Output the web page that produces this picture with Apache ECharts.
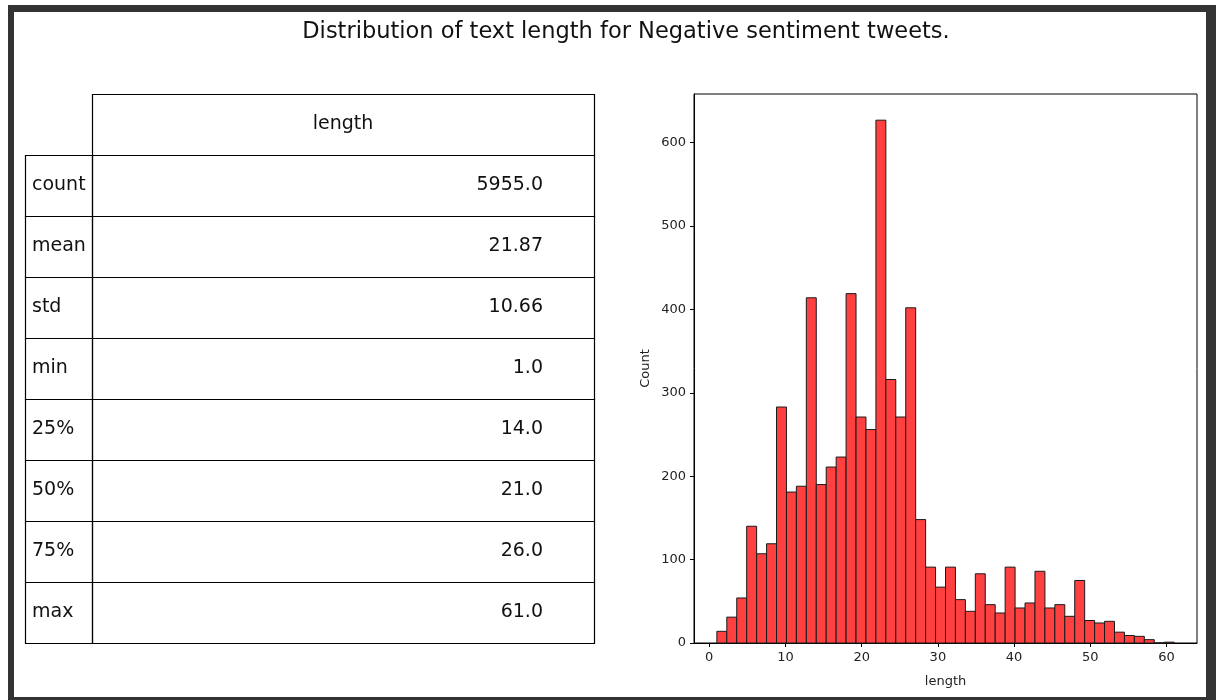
<!DOCTYPE html>
<html>
<head>
<meta charset="utf-8">
<script src="https://cdn.jsdelivr.net/npm/echarts@6/dist/echarts.min.js"></script>
<style>
  html, body { margin: 0; padding: 0; background: #ffffff; }
  #frame { position: absolute; left: 8px; top: 5px; width: 1208px; height: 695px; background: #333333; }
  #chart { position: absolute; left: 6px; top: 7px; width: 1192px; height: 685px; background: #ffffff;
           box-shadow: inset 1px 1px 0 #b8b8b8; }
</style>
</head>
<body>
<div id="frame"><div id="chart"></div></div>
<script>
// Summary statistics of tweet length (words) for the negative class
const titleText = 'Distribution of text length for Negative sentiment tweets.';
const columnHeader = 'length';
const statLabels = ['count', 'mean', 'std', 'min', '25%', '50%', '75%', 'max'];
const statValues = ['5955.0', '21.87', '10.66', '1.0', '14.0', '21.0', '26.0', '61.0'];

// Histogram: 46 equal-width bins spanning the observed range
const binLow = 1;
const binHigh = 61;
const binCounts = [
  14, 31, 54, 140, 107, 119, 283, 181, 188, 414,
  190, 211, 223, 419, 271, 256, 627, 316, 271, 402,
  148, 91, 67, 91, 52, 38, 83, 46, 36, 91,
  42, 48, 86, 42, 46, 32, 75, 27, 24, 26,
  13, 9, 8, 4, 0, 1
];
const xTicks = [0, 10, 20, 30, 40, 50, 60];
const yTicks = [0, 100, 200, 300, 400, 500, 600];

const binWidth = (binHigh - binLow) / binCounts.length;
const histData = binCounts.map((c, i) => [binLow + i * binWidth, binLow + (i + 1) * binWidth, c]);

// Table drawn as graphic cells
const FONT = 'DejaVu Sans';
const labelX0 = 11, labelX1 = 78, valX1 = 580;
const headTop = 82, rowTop = 143, rowH = 61;
const cellLine = { stroke: '#000', lineWidth: 1.2, fill: 'rgba(0,0,0,0)' };
const tableEls = [];
tableEls.push({ type: 'rect', shape: { x: labelX1 + 0.5, y: headTop + 0.5, width: valX1 - labelX1, height: rowTop - headTop }, style: cellLine });
tableEls.push({ type: 'text', x: (labelX1 + valX1) / 2, y: (headTop + rowTop) / 2,
  style: { text: columnHeader, font: '19px ' + FONT, fill: '#111', align: 'center', verticalAlign: 'middle' } });
statLabels.forEach((lab, i) => {
  const y = rowTop + i * rowH;
  tableEls.push({ type: 'rect', shape: { x: labelX0 + 0.5, y: y + 0.5, width: labelX1 - labelX0, height: rowH }, style: cellLine });
  tableEls.push({ type: 'rect', shape: { x: labelX1 + 0.5, y: y + 0.5, width: valX1 - labelX1, height: rowH }, style: cellLine });
  tableEls.push({ type: 'text', x: labelX0 + 7, y: y + rowH / 2,
    style: { text: lab, font: '19px ' + FONT, fill: '#111', align: 'left', verticalAlign: 'middle' } });
  tableEls.push({ type: 'text', x: 529, y: y + rowH / 2,
    style: { text: statValues[i], font: '19px ' + FONT, fill: '#111', align: 'right', verticalAlign: 'middle' } });
});
tableEls.push({ type: 'text', x: 612, y: 20,
  style: { text: titleText, font: '22.5px ' + FONT, fill: '#111', align: 'center', verticalAlign: 'middle' } });

const chart = echarts.init(document.getElementById('chart'), null, { renderer: 'canvas' });
chart.setOption({
  animation: false,
  backgroundColor: '#ffffff',
  textStyle: { fontFamily: FONT },
  graphic: { elements: tableEls },
  grid: { left: 680, top: 82, width: 503, height: 549, show: true, borderColor: '#000', borderWidth: 1, backgroundColor: 'transparent' },
  xAxis: {
    type: 'value', min: -2, max: 64,
    name: 'length', nameLocation: 'middle', nameGap: 32,
    nameTextStyle: { fontSize: 13, color: '#222', fontFamily: FONT },
    axisLine: { show: true, onZero: false, lineStyle: { color: '#000' } },
    axisTick: { show: true, length: 4, lineStyle: { color: '#000' }, customValues: xTicks },
    axisLabel: { fontSize: 13, color: '#222', margin: 8, customValues: xTicks },
    splitLine: { show: false }
  },
  yAxis: {
    type: 'value', min: 0, max: 658.4,
    name: 'Count', nameLocation: 'middle', nameGap: 42,
    nameTextStyle: { fontSize: 13, color: '#222', fontFamily: FONT },
    axisLine: { show: true, onZero: false, lineStyle: { color: '#000' } },
    axisTick: { show: true, length: 4, lineStyle: { color: '#000' }, customValues: yTicks },
    axisLabel: { fontSize: 13, color: '#222', margin: 8, customValues: yTicks },
    splitLine: { show: false }
  },
  series: [{
    type: 'custom',
    data: histData,
    encode: { x: [0, 1], y: 2 },
    renderItem: function (params, api) {
      const p0 = api.coord([api.value(0), 0]);
      const p1 = api.coord([api.value(1), api.value(2)]);
      return {
        type: 'rect',
        shape: { x: p0[0], y: p1[1], width: p1[0] - p0[0], height: p0[1] - p1[1] },
        style: { fill: '#ff4040', stroke: '#1a1a1a', lineWidth: 1 }
      };
    }
  }]
});
</script>
</body>
</html>
